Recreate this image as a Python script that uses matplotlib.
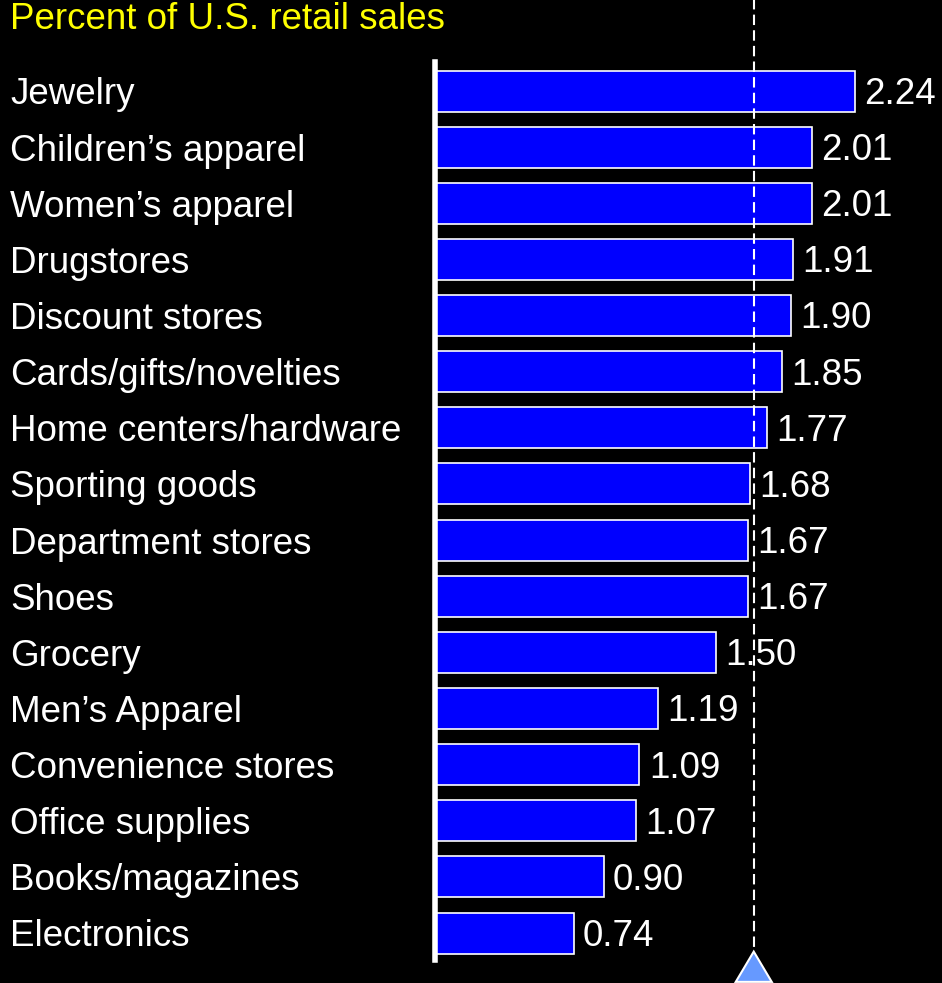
import matplotlib.pyplot as plt
from matplotlib.patches import Polygon
from matplotlib import transforms

plt.rcParams['font.family'] = ['Liberation Sans', 'DejaVu Sans']

categories = ['Jewelry', 'Children\u2019s apparel', 'Women\u2019s apparel', 'Drugstores',
              'Discount stores', 'Cards/gifts/novelties', 'Home centers/hardware',
              'Sporting goods', 'Department stores', 'Shoes', 'Grocery',
              'Men\u2019s Apparel', 'Convenience stores', 'Office supplies',
              'Books/magazines', 'Electronics']
values = [2.24, 2.01, 2.01, 1.91, 1.90, 1.85, 1.77, 1.68, 1.67, 1.67, 1.50,
          1.19, 1.09, 1.07, 0.90, 0.74]
average = 1.70
title = 'Percent of U.S. retail sales'

W, H = 942, 983
fs = 26.5
fig = plt.figure(figsize=(W / 100, H / 100), dpi=100, facecolor='black')
ax = fig.add_axes([435 / W, 23 / H, 1 - 435 / W, 898 / H], facecolor='black')

y = list(range(len(categories)))
ax.barh(y, values, height=0.73, color='#0000FF', edgecolor='white', linewidth=1.2, zorder=2)
ax.set_xlim(0, (W - 435) / 187.5)
ax.set_ylim(15.48, -0.517)

for s in ['top', 'right', 'bottom']:
    ax.spines[s].set_visible(False)
ax.spines['left'].set_color('white')
ax.spines['left'].set_linewidth(4)
ax.spines['left'].set_zorder(3)
ax.set_xticks([])
ax.set_yticks([])

# category names sit at the left edge of the figure
lab_tr = transforms.blended_transform_factory(fig.transFigure, ax.transData)
for i, (c, v) in enumerate(zip(categories, values)):
    ax.text(10 / W, i + 0.07, c, transform=lab_tr, color='white', fontsize=fs,
            ha='left', va='center', clip_on=False)
    ax.text(v + 0.05, i + 0.06, f'{v:.2f}', color='white', fontsize=fs,
            ha='left', va='center', clip_on=False, zorder=1)

# average marker: dashed line with a triangle below
ax.plot([average, average], [-1.65, 15.34], color='white', lw=1.5,
        dashes=(5, 2.5), clip_on=False, zorder=4)
dx = 18 / 187.5
tri = Polygon([[average - dx, 15.87], [average + dx, 15.87], [average, 15.33]],
              closed=True, facecolor='#6699FF', edgecolor='white', lw=1.5,
              clip_on=False, zorder=5)
ax.add_patch(tri)

fig.text(10 / W, 1 - 29 / H, title, color='#FFFF00', fontsize=fs,
         ha='left', va='baseline')

fig.savefig('out.png', dpi=100, facecolor='black')
